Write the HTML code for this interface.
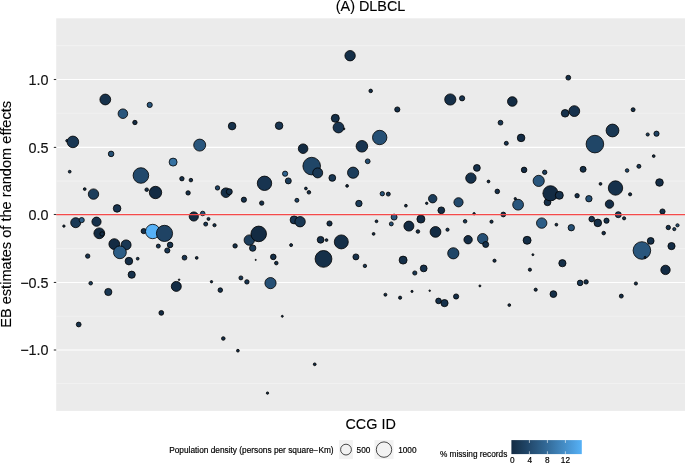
<!DOCTYPE html>
<html><head><meta charset="utf-8"><title>(A) DLBCL</title>
<style>
html,body{margin:0;padding:0;background:#fff;}
body{width:685px;height:464px;overflow:hidden;position:relative;font-family:"Liberation Sans",Arial,Helvetica,sans-serif;color:#000;}
svg{position:absolute;left:0;top:0;display:block;will-change:transform;}
text{font-family:"Liberation Sans",Arial,Helvetica,sans-serif;}
.ax{font-size:14.4px;fill:#111;stroke:#111;stroke-width:0.15px;}
.ti{font-size:14.4px;fill:#000;stroke:#000;stroke-width:0.12px;}
.lg{font-size:8.25px;fill:#000;stroke:#000;stroke-width:0.18px;}
</style></head><body>
<svg width="685" height="464" viewBox="0 0 685 464">
<rect x="0" y="0" width="685" height="464" fill="#ffffff"/>
<rect x="56.2" y="18.3" width="628.8" height="392.6" fill="#ebebeb"/>

<g stroke="#f5f5f5" stroke-width="0.6">
<line x1="56.2" x2="685" y1="45.60" y2="45.60"/>
<line x1="56.2" x2="685" y1="113.30" y2="113.30"/>
<line x1="56.2" x2="685" y1="181.10" y2="181.10"/>
<line x1="56.2" x2="685" y1="248.60" y2="248.60"/>
<line x1="56.2" x2="685" y1="316.30" y2="316.30"/>
<line x1="56.2" x2="685" y1="383.50" y2="383.50"/>
</g><g stroke="#ffffff" stroke-width="1.1">
<line x1="56.2" x2="685" y1="79.50" y2="79.50"/>
<line x1="56.2" x2="685" y1="147.40" y2="147.40"/>
<line x1="56.2" x2="685" y1="214.20" y2="214.20"/>
<line x1="56.2" x2="685" y1="282.45" y2="282.45"/>
<line x1="56.2" x2="685" y1="350.00" y2="350.00"/>
</g>
<g stroke="#000000" stroke-width="0.80">
<circle cx="105.3" cy="99.5" r="5.40" fill="#16314b"/>
<circle cx="122.9" cy="113.7" r="4.80" fill="#29567d"/>
<circle cx="149.7" cy="104.9" r="2.60" fill="#29567d"/>
<circle cx="134.9" cy="122.5" r="2.20" fill="#132b43"/>
<circle cx="66.9" cy="140.7" r="1.20" fill="#1f4364"/>
<circle cx="72.9" cy="141.9" r="5.80" fill="#193753"/>
<circle cx="232.1" cy="126.1" r="3.80" fill="#16314b"/>
<circle cx="279.1" cy="125.7" r="3.80" fill="#183450"/>
<circle cx="199.7" cy="145.1" r="6.00" fill="#29567d"/>
<circle cx="303.1" cy="148.7" r="4.80" fill="#132b43"/>
<circle cx="350.1" cy="55.7" r="5.20" fill="#152f48"/>
<circle cx="370.7" cy="90.9" r="1.80" fill="#152f48"/>
<circle cx="450.3" cy="99.5" r="5.60" fill="#152f48"/>
<circle cx="462.1" cy="98.3" r="2.60" fill="#183450"/>
<circle cx="397.3" cy="109.5" r="2.60" fill="#152f48"/>
<circle cx="335.3" cy="118.3" r="4.00" fill="#152f48"/>
<circle cx="344.1" cy="128.9" r="0.80" fill="#132b43"/>
<circle cx="338.5" cy="127.5" r="5.40" fill="#183450"/>
<circle cx="379.7" cy="137.5" r="7.20" fill="#265075"/>
<circle cx="361.9" cy="146.3" r="5.80" fill="#183450"/>
<circle cx="367.7" cy="161.3" r="2.40" fill="#265075"/>
<circle cx="353.1" cy="172.7" r="5.60" fill="#1c3d5b"/>
<circle cx="332.3" cy="177.9" r="3.40" fill="#193753"/>
<circle cx="347.1" cy="185.9" r="1.40" fill="#132b43"/>
<circle cx="568.3" cy="77.7" r="2.40" fill="#152f48"/>
<circle cx="512.3" cy="101.5" r="4.80" fill="#132b43"/>
<circle cx="565.1" cy="113.3" r="3.80" fill="#16314b"/>
<circle cx="574.3" cy="111.1" r="5.40" fill="#17324d"/>
<circle cx="500.5" cy="122.7" r="2.40" fill="#193753"/>
<circle cx="521.1" cy="137.9" r="3.80" fill="#142d46"/>
<circle cx="506.3" cy="143.3" r="2.00" fill="#183450"/>
<circle cx="594.9" cy="144.1" r="8.80" fill="#204667"/>
<circle cx="476.9" cy="167.9" r="3.40" fill="#16314b"/>
<circle cx="470.9" cy="178.1" r="5.20" fill="#16314b"/>
<circle cx="488.5" cy="181.5" r="1.40" fill="#132b43"/>
<circle cx="524.1" cy="169.9" r="2.80" fill="#132b43"/>
<circle cx="544.7" cy="172.3" r="2.20" fill="#1c3d5b"/>
<circle cx="538.7" cy="180.9" r="5.60" fill="#29567d"/>
<circle cx="583.1" cy="169.3" r="3.00" fill="#152f48"/>
<circle cx="633.1" cy="109.7" r="2.00" fill="#152f48"/>
<circle cx="612.5" cy="130.5" r="6.40" fill="#193753"/>
<circle cx="647.7" cy="134.5" r="1.60" fill="#1c3d5b"/>
<circle cx="656.5" cy="133.7" r="2.60" fill="#1f4364"/>
<circle cx="653.7" cy="156.1" r="1.40" fill="#132b43"/>
<circle cx="638.9" cy="166.3" r="2.00" fill="#193753"/>
<circle cx="627.1" cy="170.5" r="1.80" fill="#22496c"/>
<circle cx="659.5" cy="182.5" r="3.80" fill="#142d46"/>
<circle cx="615.5" cy="188.0" r="7.20" fill="#16314b"/>
<circle cx="600.5" cy="183.9" r="1.40" fill="#132b43"/>
<circle cx="111.1" cy="153.9" r="2.80" fill="#265075"/>
<circle cx="173.1" cy="162.1" r="4.00" fill="#3671a1"/>
<circle cx="69.7" cy="171.7" r="1.40" fill="#193753"/>
<circle cx="140.9" cy="175.5" r="7.80" fill="#22496c"/>
<circle cx="181.9" cy="178.7" r="2.20" fill="#152f48"/>
<circle cx="84.7" cy="189.1" r="1.40" fill="#132b43"/>
<circle cx="93.5" cy="194.1" r="5.20" fill="#1c3d5b"/>
<circle cx="146.7" cy="189.7" r="1.80" fill="#152f48"/>
<circle cx="155.5" cy="192.5" r="6.20" fill="#132b43"/>
<circle cx="117.1" cy="208.4" r="3.80" fill="#183450"/>
<circle cx="188.1" cy="192.9" r="2.20" fill="#152f48"/>
<circle cx="63.9" cy="226.1" r="1.20" fill="#132b43"/>
<circle cx="75.7" cy="222.7" r="5.00" fill="#1a3956"/>
<circle cx="81.7" cy="220.1" r="2.60" fill="#2c5d86"/>
<circle cx="96.5" cy="221.7" r="4.60" fill="#16314b"/>
<circle cx="99.3" cy="233.3" r="5.40" fill="#132b43"/>
<circle cx="102.1" cy="233.9" r="2.20" fill="#142d46"/>
<circle cx="114.3" cy="244.1" r="5.40" fill="#132b43"/>
<circle cx="126.1" cy="244.9" r="5.00" fill="#193753"/>
<circle cx="119.9" cy="252.3" r="6.40" fill="#2c5d86"/>
<circle cx="128.9" cy="261.1" r="3.80" fill="#142d46"/>
<circle cx="137.7" cy="258.7" r="1.40" fill="#193753"/>
<circle cx="87.7" cy="256.1" r="2.20" fill="#183450"/>
<circle cx="131.7" cy="274.7" r="3.60" fill="#16314b"/>
<circle cx="90.7" cy="283.2" r="1.80" fill="#1c3d5b"/>
<circle cx="143.7" cy="231.1" r="2.60" fill="#152f48"/>
<circle cx="152.7" cy="231.5" r="7.20" fill="#56b1f7"/>
<circle cx="164.5" cy="233.4" r="8.10" fill="#1f4364"/>
<circle cx="170.1" cy="244.9" r="2.80" fill="#16314b"/>
<circle cx="158.3" cy="246.1" r="2.00" fill="#193753"/>
<circle cx="167.3" cy="250.5" r="2.60" fill="#193753"/>
<circle cx="184.5" cy="257.7" r="2.40" fill="#183450"/>
<circle cx="176.3" cy="286.4" r="5.00" fill="#142d46"/>
<circle cx="179.1" cy="279.7" r="0.80" fill="#132b43"/>
<circle cx="108.3" cy="292.0" r="3.60" fill="#193753"/>
<circle cx="78.7" cy="324.5" r="2.40" fill="#16314b"/>
<circle cx="161.3" cy="312.9" r="2.40" fill="#132b43"/>
<circle cx="311.7" cy="166.1" r="8.80" fill="#204667"/>
<circle cx="317.7" cy="172.9" r="5.00" fill="#193753"/>
<circle cx="285.1" cy="173.7" r="2.60" fill="#2f638f"/>
<circle cx="288.3" cy="180.9" r="3.00" fill="#1c3d5b"/>
<circle cx="264.5" cy="183.3" r="7.20" fill="#183450"/>
<circle cx="190.9" cy="180.1" r="1.80" fill="#152f48"/>
<circle cx="217.5" cy="187.9" r="2.20" fill="#1f4364"/>
<circle cx="225.9" cy="192.7" r="4.80" fill="#152f48"/>
<circle cx="229.3" cy="191.7" r="3.00" fill="#152f48"/>
<circle cx="243.9" cy="199.7" r="2.60" fill="#16314b"/>
<circle cx="261.7" cy="203.1" r="2.20" fill="#152f48"/>
<circle cx="296.9" cy="200.3" r="2.00" fill="#1f4364"/>
<circle cx="305.9" cy="188.5" r="1.40" fill="#16314b"/>
<circle cx="308.9" cy="192.3" r="1.80" fill="#152f48"/>
<circle cx="193.8" cy="216.5" r="4.60" fill="#132b43"/>
<circle cx="202.7" cy="213.5" r="2.30" fill="#265075"/>
<circle cx="208.5" cy="218.9" r="1.50" fill="#152f48"/>
<circle cx="205.7" cy="224.1" r="2.00" fill="#193753"/>
<circle cx="214.5" cy="225.2" r="1.60" fill="#16314b"/>
<circle cx="294.1" cy="219.9" r="4.00" fill="#183450"/>
<circle cx="300.1" cy="221.7" r="5.20" fill="#193753"/>
<circle cx="249.3" cy="240.1" r="5.20" fill="#1c3d5b"/>
<circle cx="258.7" cy="233.9" r="7.80" fill="#132b43"/>
<circle cx="252.7" cy="248.1" r="3.20" fill="#1a3956"/>
<circle cx="235.1" cy="245.9" r="2.20" fill="#152f48"/>
<circle cx="291.1" cy="245.1" r="1.50" fill="#16314b"/>
<circle cx="320.6" cy="239.8" r="3.40" fill="#142d46"/>
<circle cx="323.5" cy="258.9" r="8.40" fill="#152f48"/>
<circle cx="196.7" cy="257.9" r="1.40" fill="#132b43"/>
<circle cx="255.7" cy="259.9" r="0.60" fill="#132b43"/>
<circle cx="273.3" cy="256.9" r="2.80" fill="#152f48"/>
<circle cx="276.3" cy="263.1" r="1.80" fill="#152f48"/>
<circle cx="240.9" cy="277.9" r="2.00" fill="#193753"/>
<circle cx="246.9" cy="281.9" r="2.20" fill="#193753"/>
<circle cx="211.5" cy="281.7" r="1.20" fill="#132b43"/>
<circle cx="270.5" cy="283.1" r="5.60" fill="#265075"/>
<circle cx="220.3" cy="290.1" r="2.30" fill="#16314b"/>
<circle cx="282.3" cy="316.3" r="1.00" fill="#132b43"/>
<circle cx="223.3" cy="338.5" r="1.80" fill="#142d46"/>
<circle cx="237.9" cy="350.7" r="1.40" fill="#142d46"/>
<circle cx="314.7" cy="364.3" r="1.40" fill="#132b43"/>
<circle cx="267.5" cy="393.1" r="1.20" fill="#132b43"/>
<circle cx="382.3" cy="193.7" r="2.20" fill="#265075"/>
<circle cx="388.3" cy="194.1" r="2.00" fill="#183450"/>
<circle cx="358.9" cy="203.5" r="3.20" fill="#1c3d5b"/>
<circle cx="405.9" cy="205.7" r="1.40" fill="#132b43"/>
<circle cx="432.7" cy="198.7" r="4.20" fill="#1c3d5b"/>
<circle cx="426.7" cy="203.3" r="1.20" fill="#132b43"/>
<circle cx="441.3" cy="210.3" r="3.40" fill="#142d46"/>
<circle cx="458.5" cy="202.3" r="4.60" fill="#22496c"/>
<circle cx="394.1" cy="217.1" r="3.00" fill="#29567d"/>
<circle cx="391.3" cy="223.9" r="2.00" fill="#265075"/>
<circle cx="376.5" cy="221.3" r="1.40" fill="#132b43"/>
<circle cx="420.9" cy="219.1" r="4.00" fill="#132b43"/>
<circle cx="408.9" cy="226.1" r="5.00" fill="#132b43"/>
<circle cx="417.9" cy="231.5" r="1.80" fill="#142d46"/>
<circle cx="435.5" cy="231.9" r="5.40" fill="#132b43"/>
<circle cx="447.5" cy="229.7" r="1.60" fill="#193753"/>
<circle cx="329.5" cy="223.5" r="2.60" fill="#142d46"/>
<circle cx="373.6" cy="233.9" r="1.40" fill="#132b43"/>
<circle cx="326.5" cy="240.1" r="1.40" fill="#132b43"/>
<circle cx="341.3" cy="241.9" r="7.00" fill="#152f48"/>
<circle cx="355.9" cy="256.9" r="3.00" fill="#16314b"/>
<circle cx="364.9" cy="265.9" r="1.70" fill="#193753"/>
<circle cx="403.1" cy="260.1" r="4.00" fill="#152f48"/>
<circle cx="453.3" cy="253.3" r="5.60" fill="#204667"/>
<circle cx="423.7" cy="268.4" r="3.40" fill="#16314b"/>
<circle cx="414.8" cy="273.0" r="2.10" fill="#193753"/>
<circle cx="385.4" cy="294.7" r="1.50" fill="#132b43"/>
<circle cx="400.1" cy="297.7" r="1.60" fill="#132b43"/>
<circle cx="412.0" cy="291.4" r="1.10" fill="#132b43"/>
<circle cx="429.7" cy="290.7" r="0.80" fill="#132b43"/>
<circle cx="438.5" cy="300.9" r="2.80" fill="#16314b"/>
<circle cx="444.5" cy="303.1" r="3.60" fill="#16314b"/>
<circle cx="456.1" cy="296.5" r="2.60" fill="#152f48"/>
<circle cx="497.3" cy="191.4" r="2.30" fill="#16314b"/>
<circle cx="547.5" cy="202.3" r="3.40" fill="#152f48"/>
<circle cx="550.5" cy="193.3" r="7.60" fill="#132b43"/>
<circle cx="559.3" cy="195.3" r="4.00" fill="#16314b"/>
<circle cx="577.1" cy="195.7" r="2.20" fill="#152f48"/>
<circle cx="588.9" cy="198.7" r="3.20" fill="#265075"/>
<circle cx="515.3" cy="198.7" r="1.20" fill="#132b43"/>
<circle cx="518.1" cy="204.7" r="5.40" fill="#29567d"/>
<circle cx="474.1" cy="213.7" r="1.20" fill="#132b43"/>
<circle cx="503.3" cy="214.5" r="2.40" fill="#16314b"/>
<circle cx="465.1" cy="221.3" r="1.80" fill="#193753"/>
<circle cx="491.5" cy="221.7" r="1.60" fill="#152f48"/>
<circle cx="541.7" cy="223.1" r="5.20" fill="#2c5d86"/>
<circle cx="556.4" cy="224.7" r="1.40" fill="#132b43"/>
<circle cx="571.3" cy="227.7" r="3.20" fill="#265075"/>
<circle cx="591.7" cy="219.1" r="2.80" fill="#183450"/>
<circle cx="597.8" cy="222.9" r="3.80" fill="#152f48"/>
<circle cx="468.1" cy="239.7" r="4.20" fill="#142d46"/>
<circle cx="482.7" cy="238.7" r="5.20" fill="#265075"/>
<circle cx="485.7" cy="244.5" r="3.00" fill="#16314b"/>
<circle cx="527.1" cy="240.3" r="4.00" fill="#152f48"/>
<circle cx="532.9" cy="254.7" r="1.00" fill="#132b43"/>
<circle cx="494.5" cy="260.7" r="1.60" fill="#142d46"/>
<circle cx="562.4" cy="263.2" r="3.60" fill="#152f48"/>
<circle cx="529.9" cy="269.7" r="1.60" fill="#142d46"/>
<circle cx="479.9" cy="285.9" r="1.00" fill="#132b43"/>
<circle cx="535.7" cy="289.7" r="1.60" fill="#142d46"/>
<circle cx="553.4" cy="294.1" r="3.40" fill="#152f48"/>
<circle cx="509.3" cy="305.1" r="1.40" fill="#132b43"/>
<circle cx="580.1" cy="282.9" r="2.80" fill="#193753"/>
<circle cx="586.1" cy="281.9" r="2.20" fill="#152f48"/>
<circle cx="630.1" cy="194.3" r="1.60" fill="#142d46"/>
<circle cx="609.5" cy="204.1" r="4.20" fill="#142d46"/>
<circle cx="662.5" cy="211.5" r="2.60" fill="#152f48"/>
<circle cx="618.3" cy="214.7" r="3.00" fill="#1c3d5b"/>
<circle cx="624.1" cy="218.3" r="1.60" fill="#152f48"/>
<circle cx="606.5" cy="220.7" r="2.60" fill="#152f48"/>
<circle cx="603.7" cy="233.1" r="1.80" fill="#142d46"/>
<circle cx="668.3" cy="227.5" r="2.20" fill="#16314b"/>
<circle cx="674.3" cy="229.1" r="1.60" fill="#1f4364"/>
<circle cx="677.5" cy="225.3" r="1.60" fill="#265075"/>
<circle cx="650.7" cy="240.9" r="3.40" fill="#152f48"/>
<circle cx="671.5" cy="246.1" r="3.60" fill="#142d46"/>
<circle cx="641.9" cy="250.5" r="8.80" fill="#29567d"/>
<circle cx="645.1" cy="257.3" r="1.00" fill="#132b43"/>
<circle cx="665.5" cy="269.9" r="4.70" fill="#132b43"/>
<circle cx="635.9" cy="283.5" r="1.60" fill="#142d46"/>
<circle cx="621.3" cy="296.1" r="2.00" fill="#142d46"/>
</g>
<line x1="56.2" x2="685" y1="214.62" y2="214.62" stroke="#f54a4a" stroke-width="1.24"/>
<g stroke="#333333" stroke-width="1.07">
<line x1="53.8" x2="56.2" y1="79.50" y2="79.50"/>
<line x1="53.8" x2="56.2" y1="147.40" y2="147.40"/>
<line x1="53.8" x2="56.2" y1="214.50" y2="214.50"/>
<line x1="53.8" x2="56.2" y1="282.45" y2="282.45"/>
<line x1="53.8" x2="56.2" y1="350.00" y2="350.00"/>
</g>
<text class="ax" x="48.6" y="84.90" text-anchor="end">1.0</text>
<text class="ax" x="48.6" y="152.80" text-anchor="end">0.5</text>
<text class="ax" x="48.6" y="219.90" text-anchor="end">0.0</text>
<text class="ax" x="48.6" y="287.85" text-anchor="end">−0.5</text>
<text class="ax" x="48.6" y="355.40" text-anchor="end">−1.0</text>
<text class="ti" x="370.6" y="10.9" text-anchor="middle">(A) DLBCL</text>
<text class="ti" x="370.6" y="428.6" text-anchor="middle">CCG ID</text>
<text class="ti" style="font-size:14.6px" transform="translate(10.9,214.4) rotate(-90)" text-anchor="middle">EB estimates of the random effects</text>
<text class="lg" style="font-size:8.3px" x="169.2" y="452.8">Population density (persons per square−Km)</text>
<rect x="339.0" y="440.1" width="13.9" height="19" fill="#f2f2f2"/>
<circle cx="346.0" cy="449.6" r="5.4" fill="none" stroke="#000" stroke-width="0.7"/>
<text class="lg" x="356.6" y="452.8">500</text>
<rect x="374.5" y="440.1" width="19" height="19" fill="#f2f2f2"/>
<circle cx="384.0" cy="449.6" r="7.7" fill="none" stroke="#000" stroke-width="0.7"/>
<text class="lg" x="398.2" y="452.8">1000</text>
<text class="lg" x="439.9" y="456.6">% missing records</text>
<defs><linearGradient id="cb" x1="0" x2="1" y1="0" y2="0">
<stop offset="0.00" stop-color="#132b43"/>
<stop offset="0.05" stop-color="#16314b"/>
<stop offset="0.10" stop-color="#193753"/>
<stop offset="0.15" stop-color="#1c3d5b"/>
<stop offset="0.20" stop-color="#1f4364"/>
<stop offset="0.25" stop-color="#22496c"/>
<stop offset="0.30" stop-color="#265075"/>
<stop offset="0.35" stop-color="#29567d"/>
<stop offset="0.40" stop-color="#2c5d86"/>
<stop offset="0.45" stop-color="#2f638f"/>
<stop offset="0.50" stop-color="#336a98"/>
<stop offset="0.55" stop-color="#3671a1"/>
<stop offset="0.60" stop-color="#3a78aa"/>
<stop offset="0.65" stop-color="#3d7fb4"/>
<stop offset="0.70" stop-color="#4186bd"/>
<stop offset="0.75" stop-color="#448dc6"/>
<stop offset="0.80" stop-color="#4894d0"/>
<stop offset="0.85" stop-color="#4b9bda"/>
<stop offset="0.90" stop-color="#4fa2e3"/>
<stop offset="0.95" stop-color="#52aaed"/>
<stop offset="1.00" stop-color="#56b1f7"/>
</linearGradient></defs>
<rect x="511.4" y="440.1" width="70.4" height="14" fill="url(#cb)"/>
<g stroke="#ffffff" stroke-width="0.6">
<line x1="529.4" x2="529.4" y1="440.1" y2="442.9"/>
<line x1="529.4" x2="529.4" y1="451.3" y2="454.1"/>
<line x1="547.4" x2="547.4" y1="440.1" y2="442.9"/>
<line x1="547.4" x2="547.4" y1="451.3" y2="454.1"/>
<line x1="565.4" x2="565.4" y1="440.1" y2="442.9"/>
<line x1="565.4" x2="565.4" y1="451.3" y2="454.1"/>
</g>
<text class="lg" x="512.2" y="463.2" text-anchor="middle">0</text>
<text class="lg" x="529.7" y="463.2" text-anchor="middle">4</text>
<text class="lg" x="547.4" y="463.2" text-anchor="middle">8</text>
<text class="lg" x="565.4" y="463.2" text-anchor="middle">12</text>
</svg></body></html>
